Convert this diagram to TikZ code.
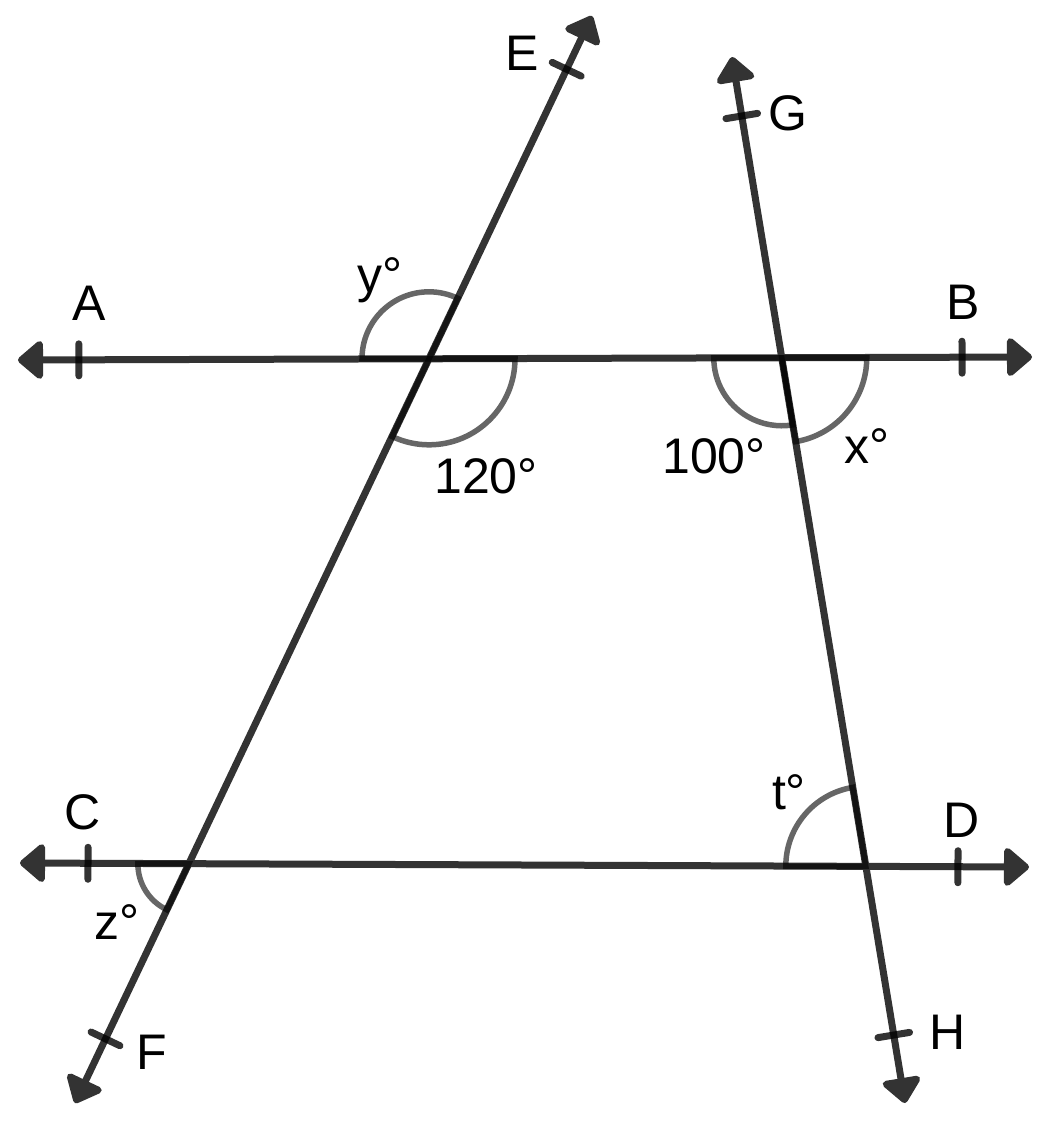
\documentclass[tikz,border=0pt]{standalone}
\usepackage{fontspec}
\setmainfont{Liberation Sans}
\usetikzlibrary{arrows.meta,calc}

\begin{document}
\begin{tikzpicture}[x=1pt,y=-1pt,>={Triangle[length=27pt,width=44pt,round]},
	ln/.style={draw=black!80,line width=7pt,<->},
	tick/.style={draw=black,draw opacity=0.8,line width=7pt,line cap=round},
	angarc/.style={draw=black,draw opacity=0.6,line width=5.5pt},
	lbl/.style={font=\fontsize{50}{60}\selectfont,inner sep=0pt}]
	\useasboundingbox (0,0) rectangle (1060,1125);
	% line ends
	\coordinate (A0) at (18,360);
	\coordinate (B0) at (1032,357);
	\coordinate (C0) at (20,863);
	\coordinate (D0) at (1029,867);
	\coordinate (E0) at (592,16);
	\coordinate (F0) at (75,1103);
	\coordinate (G0) at (732,57);
	\coordinate (H0) at (905,1103);
	% crossings
	\coordinate (P) at (intersection of A0--B0 and E0--F0);
	\coordinate (Q) at (intersection of A0--B0 and G0--H0);
	\coordinate (R) at (intersection of C0--D0 and E0--F0);
	\coordinate (S) at (intersection of C0--D0 and G0--H0);
	% lines
	\draw[ln] (A0) -- (B0);
	\draw[ln] (C0) -- (D0);
	\draw[ln] (E0) -- (F0);
	\draw[ln] (G0) -- (H0);
	% ticks
	\coordinate (tA) at ($(A0)!0.060!(B0)$);
	\coordinate (tB) at ($(A0)!0.931!(B0)$);
	\coordinate (tC) at ($(C0)!0.0674!(D0)$);
	\coordinate (tD) at ($(C0)!0.9296!(D0)$);
	\coordinate (tE) at ($(E0)!0.049!(F0)$);
	\coordinate (tF) at ($(E0)!0.941!(F0)$);
	\coordinate (tG) at ($(G0)!0.0564!(H0)$);
	\coordinate (tH) at ($(G0)!0.935!(H0)$);
	\draw[tick] ($(tA)!16pt!90:(B0)$) -- ($(tA)!16pt!-90:(B0)$);
	\draw[tick] ($(tB)!16pt!90:(B0)$) -- ($(tB)!16pt!-90:(B0)$);
	\draw[tick] ($(tC)!16pt!90:(D0)$) -- ($(tC)!16pt!-90:(D0)$);
	\draw[tick] ($(tD)!16pt!90:(D0)$) -- ($(tD)!16pt!-90:(D0)$);
	\draw[tick] ($(tE)!16pt!90:(F0)$) -- ($(tE)!16pt!-90:(F0)$);
	\draw[tick] ($(tF)!16pt!90:(F0)$) -- ($(tF)!16pt!-90:(F0)$);
	\draw[tick] ($(tG)!16pt!90:(H0)$) -- ($(tG)!16pt!-90:(H0)$);
	\draw[tick] ($(tH)!16pt!90:(H0)$) -- ($(tH)!16pt!-90:(H0)$);
	% angles
	\draw[angarc] (P) -- ++(180:67) arc[start angle=180,end angle=295.4,radius=67] -- cycle;
	\draw[angarc] (P) -- ++(0:86) arc[start angle=0,end angle=115.4,radius=86] -- cycle;
	\draw[angarc] (Q) -- ++(180:68) arc[start angle=180,end angle=80.6,radius=68] -- cycle;
	\draw[angarc] (Q) -- ++(0:85) arc[start angle=0,end angle=80.6,radius=85] -- cycle;
	\draw[angarc] (S) -- ++(180:80) arc[start angle=180,end angle=260.6,radius=80] -- cycle;
	\draw[angarc] (R) -- ++(180:51) arc[start angle=180,end angle=115.4,radius=51] -- cycle;
	% labels
	\node[lbl] (lA) at (89,303) {A};
	\node[lbl] (lB) at (963,302) {B};
	\node[lbl] (lC) at (83,812) {C};
	\node[lbl] (lD) at (962,820) {D};
	\node[lbl] (lE) at (522,53) {E};
	\node[lbl] (lF) at (152,1052) {F};
	\node[lbl] (lG) at (788,113) {G};
	\node[lbl] (lH) at (948,1032) {H};
	\node[lbl] (ly) at (380,280) {y°};
	\node[lbl] (l120) at (486,476) {120°};
	\node[lbl] (l100) at (714,456) {100°};
	\node[lbl] (lx) at (867,446) {x°};
	\node[lbl] (lt) at (789,792) {t°};
	\node[lbl] (lz) at (117,922) {z°};
\end{tikzpicture}
\end{document}
